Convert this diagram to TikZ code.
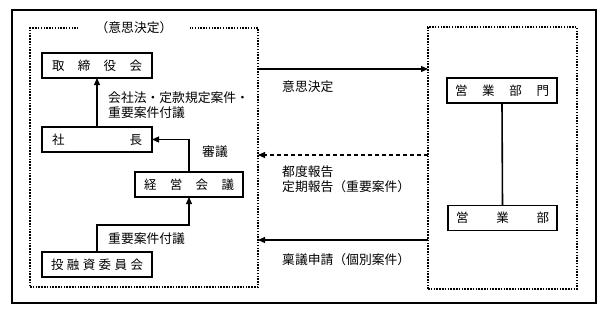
\documentclass[tikz,border=0pt]{standalone}
\usepackage{fontspec}
\setmainfont{Noto Sans CJK JP}
\usetikzlibrary{arrows.meta,calc}
\begin{document}
\begin{tikzpicture}[x=1pt,y=-1pt,
 box/.style={draw, line width=1.1pt, minimum height=25pt, inner xsep=10pt, inner ysep=0pt, outer sep=0pt, text width=90pt, font=\fontsize{12.5}{14}\selectfont},
 lbl/.style={font=\fontsize{12.8}{15}\selectfont, inner sep=0pt, anchor=west, align=left},
 arr/.style={line width=1.1pt, -{Triangle[length=7pt,width=6pt]}},
 dotbox/.style={draw, line width=2pt, dash pattern=on 1.5pt off 1.3pt, inner sep=0pt, outer sep=0pt}]
\useasboundingbox (0,0) rectangle (607,314);
\node[draw, line width=1.1pt, minimum width=584pt, minimum height=293pt, inner sep=0pt, outer sep=0pt] (frame) at (304,156.5) {};
\node[dotbox, minimum width=228pt, minimum height=259pt] (L) at (144,157.5) {};
\node[fill=white, minimum width=112pt, minimum height=6pt, inner sep=0pt, font=\fontsize{12.8}{14}\selectfont] (ttl) at (134,28) {（意思決定）};
\node[dotbox, minimum width=149pt, minimum height=262pt] (R) at (502.5,158) {};
% boxes
\node[box] (tori) at (97,65.5) {取\hfill 締\hfill 役\hfill 会};
\node[box] (sha) at (97,139.5) {社\hfill 長};
\node[box, text width=90pt, inner xsep=9pt] (keiei) at (189,184.5) {経\hfill 営\hfill 会\hfill 議};
\node[box, text width=92pt, inner xsep=9pt] (toyu) at (97,264.5) {投\hfill 融\hfill 資\hfill 委\hfill 員\hfill 会};
\node[box, text width=94pt, inner xsep=8pt] (eimon) at (502,90.5) {営\hfill 業\hfill 部\hfill 門};
\node[box, text width=93pt, inner xsep=8pt] (eibu) at (502.5,218) {営\hfill 業\hfill 部};
% labels
\node[lbl] (l1) at (108,105.5) {会社法・定款規定案件・\\重要案件付議};
\node[lbl] (l2) at (202,152) {審議};
\node[lbl] (l3) at (108,239) {重要案件付議};
\node[lbl] (l4) at (282,87) {意思決定};
\node[lbl] (l5) at (282,179.5) {都度報告\\定期報告（重要案件）};
\node[lbl] (l6) at (282,260) {稟議申請（個別案件）};
% helper coordinates
\coordinate (y69) at (0,69);
\coordinate (y155) at (0,155);
\coordinate (y240) at (0,240);
% connectors
\draw[arr] (sha.north) -- (tori.south);
\draw[arr] (keiei.north) |- (sha.east);
\draw[arr] (toyu.north) |- ($(keiei.south)+(0,28)$) -- (keiei.south);
\draw[arr] (L.east |- y69) -- (R.west |- y69);
\draw[arr, dash pattern=on 4pt off 3pt] (R.west |- y155) -- (L.east |- y155);
\draw[arr] (R.west |- y240) -- (L.east |- y240);
\draw[line width=1.6pt] (eimon.south) -- (eibu.north);
\end{tikzpicture}
\end{document}
